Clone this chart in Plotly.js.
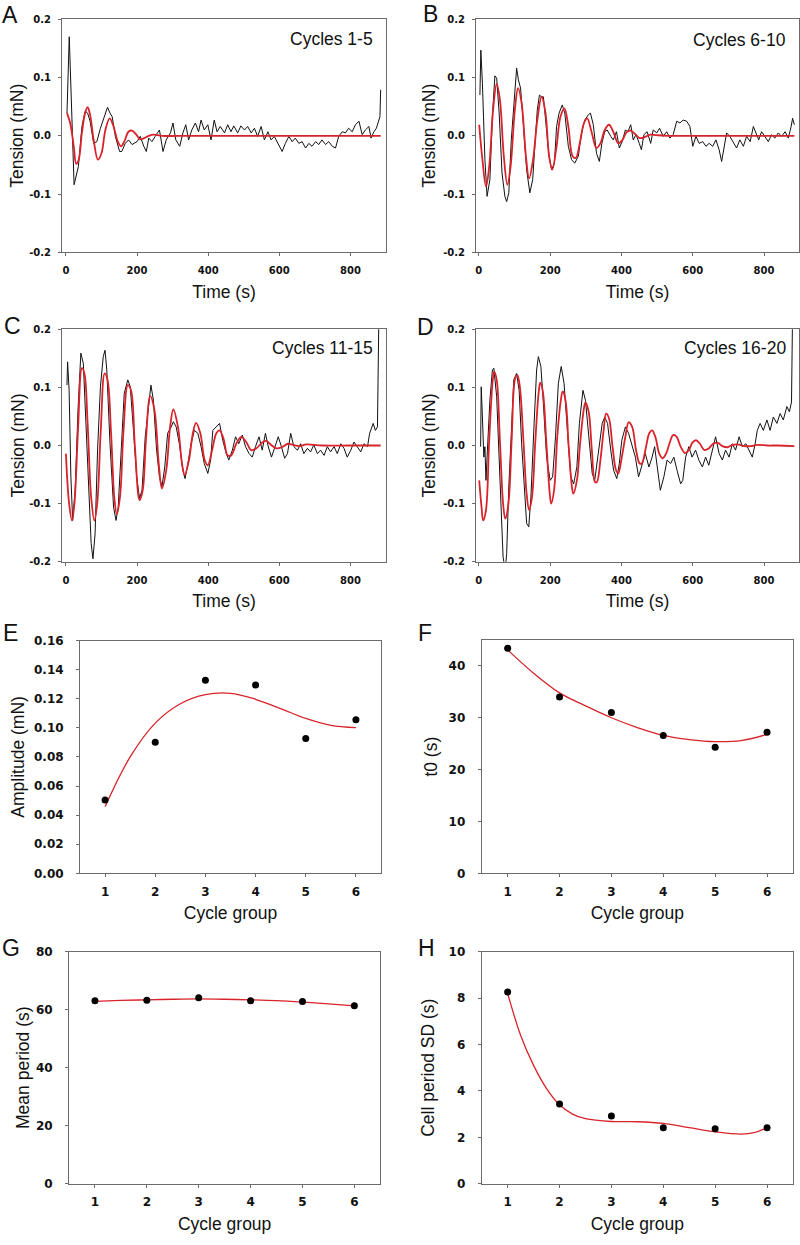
<!DOCTYPE html>
<html><head><meta charset="utf-8">
<script src="https://cdn.plot.ly/plotly-3.0.1.min.js"></script>
<style>html,body{margin:0;padding:0;background:#fff}</style>
</head><body><div id="chart" style="width:800px;height:1245px"></div>
<script>
// ---------- DATA ----------
// Panel A: cycles 1-5 (time s, tension mN)
const rawA = [[3,0.039],[9.4,0.170],[23,-0.084],[35,-0.053],[45,0.016],[54,0.042],[61,0.039],[68,0.025],[78,-0.013],[87,-0.010],[97,0.013],[106,0.030],[117,0.049],[124,0.039],[130,0.033],[139,-0.001],[151,-0.027],[157,-0.027],[167,-0.013],[176,-0.007],[186,-0.015],[200,-0.010],[209,-0.001],[219,-0.018],[226,-0.027],[233,-0.004],[242,-0.010],[251,-0.001],[263,0.010],[273,-0.027],[282,-0.007],[294,0.005],[301,0.022],[309,-0.007],[320,-0.018],[329,0.005],[337,0.019],[345,-0.007],[354,0.010],[364,0.022],[373,0.007],[380,0.027],[389,0.010],[399,0.019],[408,-0.007],[417,0.027],[425,0.007],[434,0.016],[446,0.005],[455,0.019],[464,0.007],[472,0.017],[483,0.005],[492,0.017],[502,0.010],[511,0.016],[521,0.005],[530,0.013],[539,-0.001],[549,0.016],[558,-0.007],[568,0.007],[577,-0.007],[586,-0.001],[596,-0.013],[608,-0.027],[617,-0.013],[627,-0.001],[636,-0.010],[645,-0.004],[655,-0.013],[664,-0.010],[674,-0.021],[683,-0.013],[692,-0.018],[702,-0.010],[711,-0.015],[720,-0.007],[730,-0.015],[739,-0.010],[749,-0.018],[758,-0.021],[767,-0.001],[777,0.007],[786,0.005],[795,0.013],[805,0.007],[814,0.019],[824,0.025],[833,0.002],[842,0.010],[852,0.016],[858,-0.004],[866,0.007],[873,0.013],[880,0.027],[883,0.033],[885,0.079]];
const fitA = [[3,0.039],[12,0.022],[22,-0.018],[29,-0.048],[36,-0.041],[45,0.005],[54,0.039],[61,0.049],[68,0.036],[78,-0.007],[90,-0.041],[100,-0.030],[111,0.010],[123,0.030],[134,0.016],[146,-0.010],[155,-0.018],[164,-0.010],[176,0.007],[186,0.009],[198,0.002],[209,-0.006],[220,-0.004],[233,0.000],[247,0.002],[270,0.000],[350,0.000],[500,0.000],[650,0.000],[800,0.000],[885,0.000]];

// Panel B: cycles 6-10
const rawB = [[3,0.070],[5.6,0.147],[10,0.090],[17,-0.041],[23,-0.104],[31,-0.075],[38,0.033],[45,0.103],[50,0.099],[57,0.039],[65,-0.064],[73,-0.104],[78,-0.113],[84,-0.098],[91,-0.007],[99,0.062],[106,0.116],[111,0.096],[117,0.082],[124,0.027],[134,-0.058],[143,-0.098],[151,-0.075],[157,-0.018],[164,0.045],[170,0.070],[175,0.067],[181,0.067],[190,0.005],[197,-0.035],[204,-0.058],[212,-0.047],[218,0.016],[225,0.039],[234,0.053],[241,0.039],[251,-0.018],[260,-0.041],[269,-0.047],[279,-0.035],[288,0.005],[297,0.027],[307,0.036],[313,0.039],[321,0.019],[330,-0.030],[338,-0.044],[345,-0.013],[353,0.007],[360,0.010],[370,-0.001],[377,-0.007],[386,0.007],[394,-0.021],[402,-0.010],[411,0.010],[418,0.007],[426,0.019],[433,-0.007],[441,0.002],[450,-0.013],[456,-0.024],[463,0.002],[472,0.007],[482,-0.013],[489,0.010],[499,0.005],[507,0.013],[517,-0.001],[527,0.007],[536,-0.004],[545,0.002],[555,0.025],[564,0.022],[573,0.027],[583,0.025],[592,0.016],[600,-0.018],[609,-0.001],[618,-0.013],[628,-0.010],[637,-0.018],[646,-0.013],[656,-0.018],[665,-0.007],[674,-0.024],[681,-0.044],[688,-0.018],[695,0.005],[704,-0.001],[714,-0.013],[723,-0.021],[732,-0.007],[742,-0.018],[751,-0.001],[761,-0.010],[770,0.016],[777,0.005],[785,-0.007],[793,0.007],[803,-0.001],[812,-0.010],[821,0.002],[830,-0.004],[840,0.005],[849,-0.001],[859,0.007],[868,-0.004],[876,0.016],[880,0.030],[885,0.019]];
const fitB = [[1,0.019],[10,-0.041],[20,-0.087],[29,-0.053],[40,0.045],[50,0.089],[59,0.062],[70,-0.035],[80,-0.084],[89,-0.053],[101,0.045],[110,0.082],[120,0.056],[132,-0.035],[141,-0.073],[152,-0.041],[164,0.027],[176,0.067],[187,0.039],[197,-0.035],[206,-0.058],[218,-0.018],[229,0.033],[240,0.047],[251,0.016],[263,-0.035],[272,-0.038],[283,-0.013],[295,0.022],[304,0.030],[316,0.007],[330,-0.021],[341,-0.013],[353,0.010],[365,0.019],[377,0.007],[391,-0.013],[403,-0.007],[414,0.006],[426,0.009],[438,0.003],[452,-0.004],[466,-0.002],[480,0.002],[499,0.001],[530,0.000],[600,0.000],[700,0.000],[800,0.000],[885,0.000]];

// Panel C: cycles 11-15
const rawC = [[3,0.104],[4.7,0.144],[9,0.095],[14,-0.054],[19,-0.129],[26,-0.077],[34,0.061],[42,0.159],[49,0.141],[56,0.044],[64,-0.077],[71,-0.169],[76,-0.195],[82,-0.152],[89,-0.008],[97,0.101],[105,0.153],[110,0.164],[115,0.130],[124,0.003],[134,-0.106],[141,-0.129],[147,-0.106],[155,-0.008],[164,0.090],[174,0.113],[181,0.101],[190,0.026],[199,-0.054],[207,-0.091],[214,-0.077],[223,0.015],[232,0.072],[239,0.104],[246,0.078],[255,-0.008],[263,-0.054],[270,-0.071],[278,-0.037],[286,0.021],[296,0.032],[302,0.041],[310,0.032],[319,0.003],[329,-0.043],[335,-0.057],[343,-0.031],[352,0.003],[361,0.026],[371,0.021],[380,-0.002],[389,-0.031],[399,-0.048],[407,-0.025],[413,0.026],[423,0.032],[432,0.038],[441,0.009],[451,-0.014],[458,-0.025],[468,-0.008],[477,0.015],[486,0.003],[496,0.018],[505,-0.002],[515,-0.014],[524,-0.020],[533,-0.002],[543,0.015],[552,-0.008],[561,0.021],[569,-0.002],[578,-0.020],[588,-0.002],[597,0.015],[606,-0.002],[615,-0.022],[623,-0.014],[632,0.021],[641,-0.002],[651,-0.008],[660,0.003],[669,-0.014],[679,-0.005],[688,-0.011],[697,0.001],[707,-0.014],[716,-0.008],[726,-0.017],[735,-0.002],[744,-0.011],[754,-0.002],[763,-0.014],[773,0.003],[782,-0.005],[791,-0.020],[801,-0.008],[810,0.006],[820,-0.002],[829,-0.011],[838,0.003],[848,-0.002],[854,0.021],[864,0.038],[870,0.026],[876,0.032],[880,0.230]];
const fitC = [[0,-0.014],[9,-0.100],[17,-0.129],[24,-0.100],[34,0.026],[45,0.133],[52,0.124],[61,0.038],[71,-0.089],[80,-0.129],[88,-0.100],[98,0.026],[109,0.124],[117,0.113],[127,0.021],[136,-0.089],[143,-0.118],[152,-0.089],[162,0.026],[174,0.104],[183,0.095],[194,-0.002],[207,-0.094],[216,-0.077],[225,0.009],[237,0.085],[249,0.061],[261,-0.031],[270,-0.074],[282,-0.043],[293,0.032],[302,0.062],[315,0.032],[327,-0.034],[334,-0.051],[346,-0.025],[357,0.021],[366,0.039],[378,0.021],[390,-0.025],[399,-0.034],[411,-0.008],[423,0.021],[432,0.026],[443,0.012],[455,-0.017],[465,-0.017],[479,0.003],[493,0.015],[507,0.006],[521,-0.008],[535,-0.005],[554,0.006],[563,0.008],[577,0.001],[592,-0.005],[610,-0.002],[624,0.003],[639,0.001],[657,-0.001],[676,0.002],[720,0.000],[800,0.000],[885,0.000]];

// Panel D: cycles 16-20
const rawD = [[5,-0.002],[6.6,0.101],[10,0.049],[14,-0.020],[17,-0.002],[20,-0.060],[24,-0.008],[31,0.078],[38,0.130],[42,0.133],[50,0.084],[57,-0.020],[64,-0.134],[68,-0.192],[74,-0.215],[78,-0.186],[84,-0.071],[92,0.049],[98,0.113],[106,0.124],[113,0.095],[120,0.003],[127,-0.077],[134,-0.134],[140,-0.140],[146,-0.089],[155,0.038],[162,0.130],[167,0.153],[174,0.136],[181,0.072],[190,-0.020],[200,-0.060],[207,-0.054],[215,0.015],[223,0.107],[231,0.136],[239,0.107],[249,0.021],[258,-0.054],[266,-0.066],[275,-0.037],[282,0.038],[292,0.095],[299,0.078],[309,0.009],[318,-0.048],[325,-0.060],[331,-0.031],[339,0.003],[346,0.038],[353,0.049],[361,0.038],[370,-0.008],[378,-0.043],[387,-0.057],[394,-0.031],[401,0.009],[411,0.032],[420,0.021],[430,-0.002],[439,-0.020],[448,-0.054],[458,-0.031],[467,-0.014],[477,-0.037],[486,-0.020],[493,-0.002],[502,-0.043],[509,-0.077],[519,-0.054],[528,-0.025],[538,-0.031],[547,-0.020],[556,-0.043],[566,-0.066],[572,-0.060],[580,-0.020],[589,-0.002],[598,-0.020],[608,-0.008],[617,-0.025],[627,-0.037],[636,-0.020],[645,-0.034],[655,-0.008],[664,0.015],[674,-0.014],[683,-0.025],[692,-0.008],[702,-0.020],[711,0.003],[720,-0.008],[730,0.015],[739,-0.002],[749,0.003],[758,-0.008],[767,-0.020],[775,0.003],[781,0.026],[789,0.038],[798,0.026],[808,0.044],[817,0.026],[826,0.049],[836,0.038],[845,0.055],[854,0.044],[864,0.067],[871,0.058],[877,0.075],[880,0.230]];
const fitD = [[1,-0.060],[7.5,-0.106],[12,-0.129],[20,-0.111],[29,0.009],[39,0.113],[43,0.127],[50,0.113],[59,0.009],[68,-0.100],[74,-0.126],[83,-0.100],[92,0.009],[102,0.116],[108,0.121],[115,0.101],[125,0.009],[134,-0.083],[141,-0.111],[149,-0.089],[158,0.003],[167,0.086],[172,0.108],[179,0.095],[189,0.009],[198,-0.077],[203,-0.100],[211,-0.077],[220,0.015],[230,0.078],[235,0.093],[243,0.078],[252,-0.002],[261,-0.071],[265,-0.083],[275,-0.060],[284,0.003],[294,0.061],[299,0.074],[308,0.058],[317,-0.008],[326,-0.063],[331,-0.063],[341,-0.025],[350,0.026],[357,0.055],[365,0.047],[375,-0.002],[385,-0.043],[391,-0.048],[401,-0.020],[411,0.015],[420,0.040],[430,0.032],[441,-0.008],[451,-0.031],[457,-0.031],[469,-0.002],[478,0.021],[486,0.026],[495,0.015],[506,-0.014],[515,-0.022],[525,-0.014],[536,0.006],[545,0.018],[555,0.015],[566,-0.002],[578,-0.013],[589,-0.008],[599,0.005],[609,0.009],[620,0.003],[633,-0.008],[645,-0.005],[657,0.003],[669,0.005],[683,-0.001],[697,-0.003],[711,0.001],[725,0.002],[744,-0.001],[763,-0.001],[781,0.001],[810,0.000],[838,0.000],[885,-0.001]];

// Panels E-H: per cycle group
const cycleGroup = [1, 2, 3, 4, 5, 6];
const amplitude = [0.0504, 0.0901, 0.1326, 0.1294, 0.0926, 0.1055];
const t0 = [43.4, 34.0, 31.0, 26.6, 24.3, 27.2];
const meanPeriod = [63.1, 63.3, 64.1, 63.1, 62.8, 61.4];
const periodSD = [8.26, 3.43, 2.92, 2.41, 2.37, 2.41];

// fitted curves
const ampFitX = [1, 1.5, 2, 2.5, 3, 3.5, 4, 4.5, 5, 5.5, 6];
const ampFitY = [0.0458, 0.0800, 0.1032, 0.1165, 0.1228, 0.1237, 0.1196, 0.1132, 0.1064, 0.1017, 0.1001];
const t0FitX = [1, 1.5, 2, 2.5, 3, 3.5, 4, 4.5, 5, 5.5, 6];
const t0FitY = [43.1, 38.6, 34.8, 32.3, 30.0, 28.1, 26.6, 25.8, 25.4, 25.6, 26.8];
const periodFitX = [1, 1.5, 2, 2.5, 3, 3.5, 4, 4.5, 5, 5.5, 6];
const periodFitY = [62.9, 63.2, 63.4, 63.6, 63.7, 63.6, 63.4, 63.1, 62.6, 62.0, 61.3];
const sdFitX = [1, 1.25, 1.5, 1.75, 2, 2.25, 2.5, 3, 3.5, 4, 4.5, 5, 5.5, 5.75, 6];
const sdFitY = [8.2, 6.4, 5.1, 4.1, 3.4, 3.0, 2.8, 2.68, 2.67, 2.6, 2.42, 2.24, 2.14, 2.2, 2.42];

const timeTicks = [0, 200, 400, 600, 800];
const tensionTicks = [-0.2, -0.1, 0, 0.1, 0.2];
const tensionTickText = ['-0.2', '-0.1', '0.0', '0.1', '0.2'];
const panelLetters = ['A','B','C','D','E','F','G','H'];
const cycleLabels = ['Cycles 1-5', 'Cycles 6-10', 'Cycles 11-15', 'Cycles 16-20'];

// ---------- STYLE / LAYOUT ----------
const W = 800, H = 1245;
const FONT = 'Liberation Sans, Arial, sans-serif';
const TICKFONT = 'DejaVu Sans, Verdana, sans-serif';
const RED = '#d9232a';
const AXC = '#6b6b6b';
const px = (a, b) => [a / W, b / W];
const py = (top, bot) => [1 - bot / H, 1 - top / H];

const boxes = [
  {x:[62,386], y:[19.3,252.3]},
  {x:[476,799], y:[19.3,252.3]},
  {x:[62,386], y:[329.3,561.7]},
  {x:[476,799], y:[329.3,561.7]},
  {x:[80,381], y:[640.5,873.3]},
  {x:[481.7,793], y:[640,873.3]},
  {x:[69,380.3], y:[951.7,1183.7]},
  {x:[481.7,793], y:[951.7,1183.7]}
];

function axBase(fs) {
  return {
    showline:true, linecolor:AXC, linewidth:1, mirror:true,
    ticks:'outside', ticklen:3, tickwidth:1, tickcolor:AXC,
    tickfont:{family:TICKFONT, size:fs, color:'#111', weight:'bold'},
    showgrid:false, zeroline:false, fixedrange:true
  };
}
function titleObj(text, standoff) {
  return {text:text, font:{family:FONT, size:17.5, color:'#111'}, standoff:standoff};
}

const traces = [];
const raws = [rawA, rawB, rawC, rawD];
const fits = [fitA, fitB, fitC, fitD];
for (let i = 0; i < 4; i++) {
  const ax = i === 0 ? '' : String(i + 1);
  traces.push({x: raws[i].map(p => p[0]), y: raws[i].map(p => p[1]), xaxis:'x'+ax, yaxis:'y'+ax,
    mode:'lines', line:{color:'#111', width:1}, hoverinfo:'skip', showlegend:false});
  traces.push({x: fits[i].map(p => p[0]), y: fits[i].map(p => p[1]), xaxis:'x'+ax, yaxis:'y'+ax,
    mode:'lines', line:{color:RED, width:1.8, shape:'spline', smoothing:1}, hoverinfo:'skip', showlegend:false});
}
const groupSets = [
  [ampFitX, ampFitY, amplitude],
  [t0FitX, t0FitY, t0],
  [periodFitX, periodFitY, meanPeriod],
  [sdFitX, sdFitY, periodSD]
];
groupSets.forEach((g, k) => {
  const n = String(k + 5);
  traces.push({x:g[0], y:g[1], xaxis:'x'+n, yaxis:'y'+n, mode:'lines',
    line:{color:RED, width:1.3, shape:'spline', smoothing:1}, hoverinfo:'skip', showlegend:false});
  traces.push({x:cycleGroup, y:g[2], xaxis:'x'+n, yaxis:'y'+n, mode:'markers',
    marker:{color:'#000', size:7}, hoverinfo:'skip', showlegend:false});
});

const layout = {
  width:W, height:H, margin:{l:0, r:0, t:0, b:0},
  paper_bgcolor:'#fff', plot_bgcolor:'#fff', showlegend:false,
  font:{family:FONT, color:'#111'},
  annotations:[]
};

const yTitles = ['Tension (mN)','Tension (mN)','Tension (mN)','Tension (mN)','Amplitude (mN)','t0 (s)','Mean period (s)','Cell period SD (s)'];
const yStand = [0, 2, 0, 3, 4, 6, 1, 9];
for (let i = 0; i < 8; i++) {
  const n = i === 0 ? '' : String(i + 1);
  const small = i < 4;
  const xa = axBase(small ? 10 : 12), ya = axBase(small ? 10 : 12);
  xa.domain = px(boxes[i].x[0], boxes[i].x[1]);
  ya.domain = py(boxes[i].y[0], boxes[i].y[1]);
  xa.anchor = 'y' + n; ya.anchor = 'x' + n;
  if (small) {
    xa.ticklabelstandoff = 6; ya.ticklabelstandoff = 5;
    xa.range = (i % 2 === 0) ? [-11, 900] : [-8, 898];
    xa.tickvals = timeTicks;
    xa.title = titleObj('Time (s)', 10);
    ya.range = [-0.2, 0.2];
    ya.tickvals = tensionTicks;
    ya.ticktext = tensionTickText;
  } else {
    xa.ticklabelstandoff = 4; ya.ticklabelstandoff = 10;
    xa.range = [0.5, 6.5];
    xa.tickvals = cycleGroup;
    xa.title = titleObj('Cycle group', 9);
    if (i === 4) { ya.range = [0, 0.16]; ya.dtick = 0.02; ya.tick0 = 0; ya.tickformat = '.2f'; }
    if (i === 5) { ya.range = [0, 45]; ya.tickvals = [0,10,20,30,40]; }
    if (i === 6) { ya.range = [0, 80]; ya.tickvals = [0,20,40,60,80]; }
    if (i === 7) { ya.range = [0, 10]; ya.tickvals = [0,2,4,6,8,10]; }
  }
  ya.title = titleObj(yTitles[i], yStand[i]);
  layout['xaxis' + n] = xa;
  layout['yaxis' + n] = ya;
}

const letterPos = [[10,15.5],[430,14],[12,326],[425,327],[10,633],[425,633],[11,948],[427,948]];
panelLetters.forEach((L, i) => {
  layout.annotations.push({text:L, xref:'paper', yref:'paper', x:letterPos[i][0]/W, y:1-letterPos[i][1]/H,
    xanchor:'center', yanchor:'middle', showarrow:false, font:{family:FONT, size:23, color:'#111'}});
});
const cyclePos = [[375,39],[788,40],[375,348],[788,348]];
cycleLabels.forEach((t, i) => {
  layout.annotations.push({text:t, xref:'paper', yref:'paper', x:cyclePos[i][0]/W, y:1-cyclePos[i][1]/H,
    xanchor:'right', yanchor:'middle', showarrow:false, font:{family:FONT, size:17.5, color:'#111'}});
});

Plotly.newPlot('chart', traces, layout, {staticPlot:true, displayModeBar:false});
</script>
</body></html>
